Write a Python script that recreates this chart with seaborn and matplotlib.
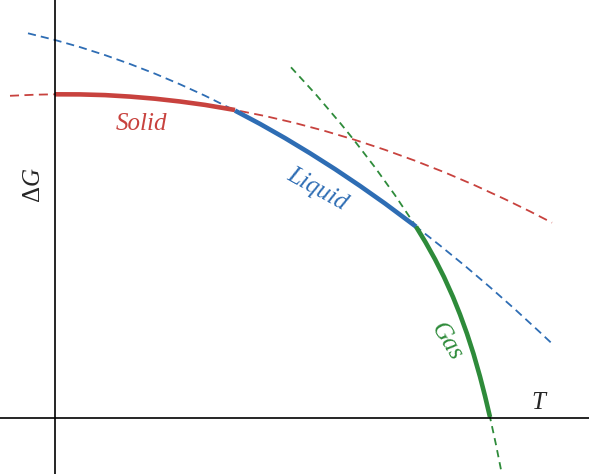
import matplotlib
matplotlib.use('Agg')
import matplotlib.pyplot as plt
import seaborn as sns

# Free energy curves (T, G in arbitrary units)
solid_T = [-45, -20, 0, 25, 50, 75, 100, 125, 150, 180, 210, 240, 270, 300, 330, 360, 390, 420, 450, 475, 497]
solid_G = [322.2, 323.3, 323.7, 323.6, 322.9, 321.4, 319.3, 316.5, 313.1, 308.0, 302.0, 295.0,
           287.0, 278.1, 268.2, 257.3, 245.5, 232.6, 218.8, 206.6, 195.3]

liquid_T = [-27, 0, 25, 50, 75, 100, 125, 150, 180, 205, 230, 255, 280, 305, 330, 361, 385, 410, 435, 460, 485, 497]
liquid_G = [384.7, 378.0, 370.9, 362.9, 354.0, 344.3, 333.7, 322.3, 307.4, 294.1, 279.9, 264.8,
            248.9, 232.1, 214.5, 191.4, 172.5, 152.1, 130.8, 108.7, 85.7, 74.4]

gas_T = [236, 261, 286, 299, 320, 340, 361, 370.5, 380, 389, 398, 405, 412, 418.5, 425, 430, 435, 441, 447]
gas_G = [350.7, 323.4, 294.0, 277.9, 250.6, 222.8, 191.4, 175.8, 158.8, 141.0, 121.0, 103.6,
         84.3, 64.2, 41.4, 22.0, 0.9, -26.7, -56.7]

# index ranges where each phase is the stable one
solid_stable = (2, 10)
liquid_stable = (8, 16)
gas_stable = (6, 17)

red = '#c8423e'
blue = '#2e6db4'
green = '#2e8b3a'

sns.set_theme(style='white')
plt.rcParams['font.family'] = ['Liberation Serif', 'DejaVu Serif']
plt.rcParams['mathtext.fontset'] = 'custom'
plt.rcParams['mathtext.rm'] = 'Liberation Serif'
plt.rcParams['mathtext.it'] = 'Liberation Serif:italic'

fig = plt.figure(figsize=(5.89, 4.74), dpi=100)
ax = fig.add_axes([0, 0, 1, 1])

curves = [(solid_T, solid_G, solid_stable, red, (5, 3)),
          (liquid_T, liquid_G, liquid_stable, blue, (4.5, 2.8)),
          (gas_T, gas_G, gas_stable, green, (4, 2.8))]

# dashed metastable curves first, then thick stable parts on top
for T, G, (a, b), col, dash in curves:
    sns.lineplot(x=T, y=G, ax=ax, color=col, lw=1.3, linestyle=(0, dash),
                 sort=False, estimator=None)
for T, G, (a, b), col, dash in curves:
    sns.lineplot(x=T[a:b], y=G[a:b], ax=ax, color=col, lw=3.3,
                 sort=False, estimator=None, solid_capstyle='butt')

ax.axhline(0, color='black', lw=1.2)
ax.axvline(0, color='black', lw=1.2)

ax.text(86, 294, 'Solid', color=red, fontsize=18, style='italic', ha='center', va='center')
ax.text(262, 229, 'Liquid', color=blue, fontsize=18, style='italic', ha='center', va='center',
        rotation=-29)
ax.text(391, 76, 'Gas', color=green, fontsize=18, style='italic', ha='center', va='center',
        rotation=-58)
ax.text(-21, 233, r'$\Delta G$', fontsize=18, ha='center', va='center', rotation=90)
ax.text(485, 15, r'$T$', fontsize=18, ha='center', va='center')

ax.set_xlim(-55, 534)
ax.set_ylim(-56, 418)
ax.axis('off')

fig.savefig('out.png', dpi=100)
